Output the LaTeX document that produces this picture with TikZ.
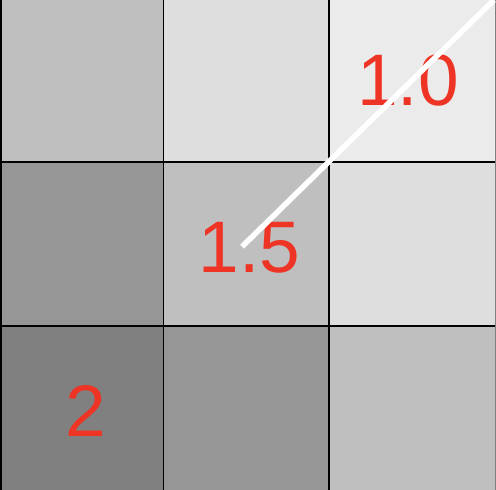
\documentclass[tikz,border=0pt]{standalone}
\usepackage{fontspec}
\setmainfont{Liberation Sans}
\definecolor{lbl}{RGB}{238,52,36}
\definecolor{gA}{RGB}{191,191,191}
\definecolor{gB}{RGB}{222,222,222}
\definecolor{gC}{RGB}{235,235,235}
\definecolor{gD}{RGB}{150,150,150}
\definecolor{gE}{RGB}{128,128,128}
\tikzset{
  gridline/.style={draw=black, line width=1.8pt},
  val/.style={text=lbl, font=\fontsize{73}{73}\selectfont, anchor=base, inner sep=0pt},
  ray/.style={draw=white, line width=5.5pt}
}
\begin{document}
\begin{tikzpicture}[x=1pt,y=1pt]
\useasboundingbox (0,0) rectangle (496,490);
% top row
\fill[gA] (0,327.7) rectangle (163.5,490);
\fill[gB] (163.5,327.7) rectangle (329.3,490);
\fill[gC] (329.3,327.7) rectangle (496,490);
% middle row
\fill[gD] (0,164) rectangle (163.5,327.7);
\fill[gA] (163.5,164) rectangle (329.3,327.7);
\fill[gB] (329.3,164) rectangle (496,327.7);
% bottom row
\fill[gE] (0,0) rectangle (163.5,164);
\fill[gD] (163.5,0) rectangle (329.3,164);
\fill[gA] (329.3,0) rectangle (496,164);
% grid lines
\draw[gridline] (0.9,0) -- (0.9,490);
\draw[gridline] (163.5,0) -- (163.5,490);
\draw[gridline] (329.3,0) -- (329.3,490);
\draw[gridline] (0,327.7) -- (496,327.7);
\draw[gridline] (0,164) -- (496,164);
\draw[draw=gray, line width=1pt] (495.5,0) -- (495.5,490);
% labels
\node[val] (v10) at (408,384) {1.0};
\node[val] (v15) at (249.5,217) {1.5};
\node[val] (v2) at (85.5,53) {2};
% ray
\coordinate (rs) at (242,243.3);
\coordinate (re) at (494,490);
\draw[ray] (rs) -- (re);
\end{tikzpicture}
\end{document}
